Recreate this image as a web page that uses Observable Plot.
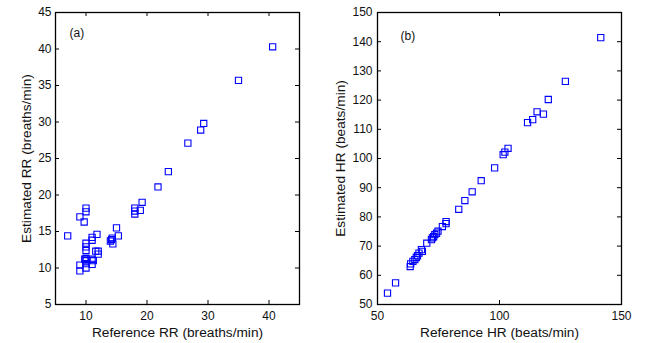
<!DOCTYPE html>
<html>
<head>
<meta charset="utf-8">
<script src="https://cdn.jsdelivr.net/npm/d3@7"></script>
<script src="https://cdn.jsdelivr.net/npm/@observablehq/plot@0.6"></script>
<style>
  html, body { margin: 0; padding: 0; background: #fff; }
  #wrap { display: flex; width: 647px; height: 343px; }
  svg { display: block; }
</style>
</head>
<body>
<div id="wrap"></div>
<script>
// ---- Panel (a): respiratory rate ----
const rrReference = [40.6, 35.0, 29.3, 28.8, 26.7, 23.5, 21.8, 19.2, 18.9, 18.0, 18.0, 18.0, 15.0, 15.3, 14.3, 14.0, 14.4, 11.8, 11.0, 11.0, 12.0, 11.6, 12.0, 11.0, 11.0, 11.2, 10.0, 10.0, 9.0, 9.7, 7.0, 10.0, 10.0, 10.0, 10.0, 10.0, 10.0, 10.0, 9.0, 9.0, 9.8, 14.2];
const rrEstimated = [40.3, 35.7, 29.8, 28.9, 27.1, 23.2, 21.1, 19.0, 17.9, 18.2, 17.8, 17.4, 15.5, 14.4, 14.1, 13.7, 13.3, 14.6, 14.2, 13.8, 12.3, 12.3, 11.9, 11.2, 10.5, 11.0, 18.2, 17.7, 17.0, 16.3, 14.4, 13.4, 12.9, 12.4, 11.3, 11.0, 10.6, 10.0, 10.4, 9.6, 11.2, 13.9];

// ---- Panel (b): heart rate ----
const hrReference = [141.5, 127.0, 120.0, 118.0, 115.4, 113.6, 111.5, 103.5, 102.2, 101.5, 98.0, 92.5, 88.8, 85.8, 83.3, 78.1, 78.1, 76.6, 74.8, 74.2, 73.5, 72.5, 72.1, 73.0, 70.2, 68.0, 68.4, 67.0, 66.4, 65.9, 65.3, 64.5, 63.6, 63.4, 57.4, 54.1];
const hrEstimated = [141.4, 126.4, 120.2, 115.2, 116.0, 113.3, 112.3, 103.5, 102.2, 101.3, 96.8, 92.4, 88.6, 85.6, 82.6, 78.4, 77.7, 76.7, 75.1, 74.4, 73.9, 72.8, 72.2, 73.2, 71.0, 68.8, 68.2, 67.6, 66.7, 66.1, 65.4, 64.8, 63.9, 63.0, 57.4, 53.9];

// ---- tick labels ----
const rrXTicks = [10, 20, 30, 40];
const rrYTicks = [5, 10, 15, 20, 25, 30, 35, 40, 45];
const hrXTicks = [50, 100, 150];
const hrYTicks = [50, 60, 70, 80, 90, 100, 110, 120, 130, 140, 150];

const panelLabels = ["(a)", "(b)"];
const xTitles = ["Reference RR (breaths/min)", "Reference HR (beats/min)"];
const yTitles = ["Estimated RR (breaths/min)", "Estimated HR (beats/min)"];

const FONT = "'Liberation Sans', Arial, Helvetica, sans-serif";

function panel(cfg) {
  const {width, height, ml, mr, mt, mb, xd, yd, xt, yt, xs, ys, label, xTitle, yTitle, labelDx, labelDy, yTitleDx, yPad} = cfg;
  const fw = width - ml - mr, fh = height - mt - mb;
  const data = xs.map((x, i) => ({x, y: ys[i]}));
  const tickLen = 4;
  const innerX = xt.filter(v => v > xd[0] && v < xd[1]);
  const innerY = yt.filter(v => v > yd[0] && v < yd[1]);
  return Plot.plot({
    width, height,
    marginLeft: ml, marginRight: mr, marginTop: mt, marginBottom: mb,
    style: {fontFamily: FONT, fontSize: "12px", color: "#111", background: "white", overflow: "visible"},
    x: {domain: xd},
    y: {domain: yd},
    marks: [
      Plot.axisX(xt, {anchor: "bottom", tickSize: 0, tickPadding: 7, label: null, fontSize: 12}),
      Plot.axisY(yt, {anchor: "left", tickSize: 0, tickPadding: yPad, label: null, fontSize: 12}),
      // inward tick marks on all four sides
      Plot.tickX(innerX, {x: d => d, insetTop: fh - tickLen, stroke: "black"}),
      Plot.tickX(innerX, {x: d => d, insetBottom: fh - tickLen, stroke: "black"}),
      Plot.tickY(innerY, {y: d => d, insetRight: fw - tickLen, stroke: "black"}),
      Plot.tickY(innerY, {y: d => d, insetLeft: fw - tickLen, stroke: "black"}),
      Plot.dot(data, {x: "x", y: "y", symbol: "square", r: 3.5, stroke: "#0000ff", fill: "none", strokeWidth: 1.1}),
      Plot.frame({stroke: "black", strokeWidth: 1.3}),
      Plot.text([label], {frameAnchor: "top-left", dx: labelDx, dy: labelDy, textAnchor: "start", lineAnchor: "middle", fontSize: 12, fill: "#111"}),
      Plot.text([xTitle], {frameAnchor: "bottom", dy: 22.5, textAnchor: "middle", lineAnchor: "top", fontSize: 13.7, fill: "#111"}),
      Plot.text([yTitle], {frameAnchor: "left", dx: yTitleDx, rotate: -90, textAnchor: "middle", lineAnchor: "middle", fontSize: 13.7, fill: "#111"})
    ]
  });
}

const wrap = document.getElementById("wrap");
wrap.appendChild(panel({
  width: 323, height: 343, ml: 55, mr: 24, mt: 12, mb: 39,
  xd: [5, 45], yd: [5, 45], xt: rrXTicks, yt: rrYTicks,
  xs: rrReference, ys: rrEstimated,
  label: panelLabels[0], xTitle: xTitles[0], yTitle: yTitles[0],
  labelDx: 14, labelDy: 21, yTitleDx: -29, yPad: 4
}));
wrap.appendChild(panel({
  width: 324, height: 343, ml: 54, mr: 26, mt: 12, mb: 39,
  xd: [50, 150], yd: [50, 150], xt: hrXTicks, yt: hrYTicks,
  xs: hrReference, ys: hrEstimated,
  label: panelLabels[1], xTitle: xTitles[1], yTitle: yTitles[1],
  labelDx: 23, labelDy: 24, yTitleDx: -36.5, yPad: 5
}));
</script>
</body>
</html>
